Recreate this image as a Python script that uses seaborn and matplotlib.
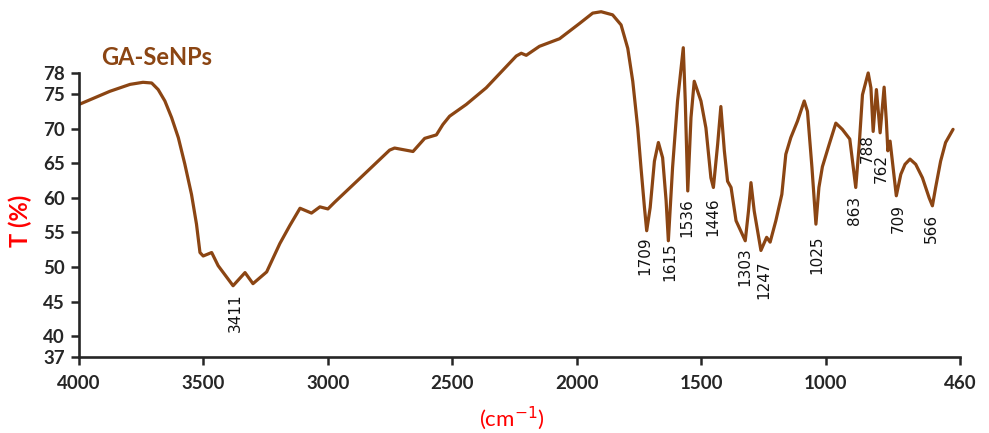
import matplotlib
matplotlib.use("Agg")
import matplotlib.pyplot as plt
import numpy as np
import pandas as pd
import seaborn as sns

# traced FTIR spectrum (wavenumber cm-1, transmittance %)
wavenumber = [4000, 3876, 3795, 3743, 3708, 3682, 3655, 3628, 3601, 3575, 3548, 3528,
              3514, 3501, 3467, 3441, 3381, 3333, 3301, 3246, 3193, 3153, 3112, 3066,
              3032, 3000, 2972, 2872, 2752, 2732, 2658, 2611, 2564, 2538, 2511, 2444,
              2364, 2243, 2223, 2203, 2150, 2069, 1989, 1936, 1902, 1856, 1822, 1795,
              1775, 1755, 1742, 1728, 1719, 1705, 1688, 1672, 1655, 1641, 1632, 1615,
              1595, 1572, 1564, 1554, 1541, 1528, 1501, 1481, 1461, 1451, 1434, 1421,
              1407, 1394, 1380, 1360, 1323, 1310, 1300, 1287, 1260, 1237, 1223, 1200,
              1176, 1160, 1140, 1113, 1086, 1073, 1055, 1039, 1027, 1013, 986, 959,
              933, 903, 892, 879, 865, 852, 829, 818, 809, 796, 781, 765, 756, 750,
              741, 729, 716, 698, 681, 661, 638, 611, 584, 571, 558, 538, 518, 488]
transmittance = [73.5, 75.4, 76.4, 76.7, 76.6, 75.65, 74.0, 71.6, 68.7, 64.9, 60.5, 56.2,
                 52.1, 51.6, 52.1, 50.2, 47.3, 49.2, 47.6, 49.3, 53.4, 56.0, 58.5, 57.8,
                 58.7, 58.4, 59.4, 62.8, 66.9, 67.2, 66.7, 68.6, 69.1, 70.6, 71.8, 73.5,
                 75.9, 80.5, 80.9, 80.6, 81.9, 83.0, 85.2, 86.7, 86.9, 86.45, 85.0, 81.6,
                 76.85, 70.1, 64.4, 58.6, 55.25, 58.6, 65.3, 68.0, 65.8, 59.6, 53.8, 64.4,
                 74.0, 81.7, 74.0, 61.0, 71.6, 76.85, 74.0, 70.1, 62.9, 61.5, 67.7, 73.2,
                 66.8, 62.4, 61.5, 56.7, 53.8, 58.1, 62.2, 58.1, 52.4, 54.3, 53.6, 56.7,
                 60.5, 66.3, 68.7, 71.1, 74.0, 72.5, 64.4, 56.2, 61.5, 64.5, 67.7, 70.8,
                 69.9, 68.5, 65.3, 61.5, 67.7, 74.9, 78.05, 75.9, 69.6, 75.65, 69.4, 76.0,
                 71.1, 66.8, 68.2, 64.4, 60.3, 63.4, 64.85, 65.6, 64.85, 62.9, 60.0, 58.85,
                 61.5, 65.3, 68.0, 69.9]

# peak labels: text, wavenumber where drawn, transmittance at label top
peak_text = ["3411", "1709", "1615", "1536", "1446", "1303", "1247", "1025",
             "863", "788", "762", "709", "566"]
peak_x = [3374, 1728, 1628, 1556, 1455, 1324, 1247, 1034, 885, 833, 777, 709, 576]
peak_y = [46.2, 54.5, 53.6, 60.0, 60.0, 52.8, 50.9, 54.5, 60.3, 69.2, 66.3, 59.1, 57.7]

xticks = [4000, 3500, 3000, 2500, 2000, 1500, 1000, 460]
yticks = [37, 40, 45, 50, 55, 60, 65, 70, 75, 78]

df = pd.DataFrame({"wn": wavenumber, "T": transmittance})

sns.set_style("ticks")
plt.rcParams["font.family"] = ["Lato", "DejaVu Sans"]

brown = "#8B4513"
fig = plt.figure(figsize=(9.89, 4.33), dpi=100)
ax = fig.add_axes([0.0799, 0.1755, 0.8908, 0.807])

sns.lineplot(data=df, x="wn", y="T", ax=ax, color=brown, linewidth=2.3)
ax.lines[0].set_solid_joinstyle("round")

ax.set_xlim(4000, 460)
ax.set_ylim(37, 87.5)
ax.set_xticks(xticks)
ax.set_yticks(yticks)
ax.tick_params(axis="both", direction="out", length=6, width=1.8,
               labelsize=13.5, pad=4)
ax.tick_params(axis="x", pad=7)
for lab in ax.get_xticklabels() + ax.get_yticklabels():
    lab.set_fontweight("bold")

sns.despine(ax=ax)
ax.spines["left"].set_bounds(37, 78)
ax.spines["left"].set_linewidth(1.9)
ax.spines["bottom"].set_linewidth(1.9)

for txt, px, py in zip(peak_text, peak_x, peak_y):
    ax.text(px, py, txt, rotation=90, ha="center", va="top",
            fontsize=11, family="DejaVu Sans", color="#111111")

ax.set_xlabel("")
ax.set_ylabel("")
fig.text(0.021, 0.49, "T (%)", rotation=90, ha="center", va="center",
         color="red", fontsize=17, fontweight="bold")
fig.text(0.518, 0.035, "(cm$^{-1}$)", ha="center", va="center",
         color="red", fontsize=16)
fig.text(0.102, 1 - 65 / 433, "GA-SeNPs", ha="left", va="baseline",
         color=brown, fontsize=17, fontweight="bold")

fig.savefig("out.png", dpi=100)
